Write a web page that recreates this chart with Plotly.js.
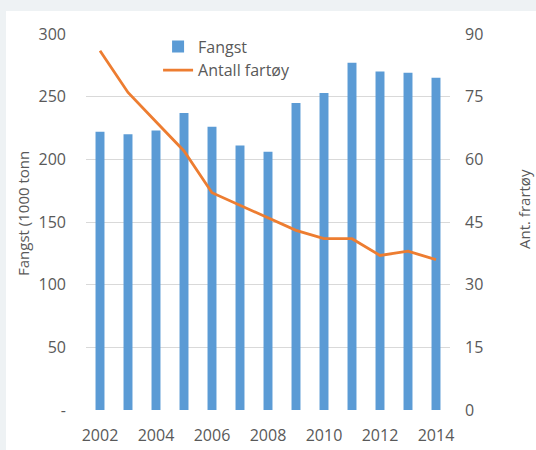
<!DOCTYPE html>
<html>
<head>
<meta charset="utf-8">
<script src="https://cdn.plot.ly/plotly-3.0.1.min.js"></script>
<style>
html,body{margin:0;padding:0;width:536px;height:450px;overflow:hidden;background:#eef2f4;}
#panel{position:absolute;left:6px;top:11px;width:530px;height:439px;background:#ffffff;}
#chart{position:absolute;left:0;top:0;width:536px;height:450px;}
</style>
</head>
<body>
<div id="panel"></div>
<div id="chart"></div>
<script>
const years = ["2002","2003","2004","2005","2006","2007","2008","2009","2010","2011","2012","2013","2014"];
const fangst = [222, 220, 223, 237, 226, 211, 206, 245, 253, 277, 270, 269, 265];
const antallFartoy = [86, 76, 69, 62, 52, 49, 46, 43, 41, 41, 37, 38, 36];
const leftTickVals = [0, 50, 100, 150, 200, 250, 300];
const leftTickText = ["-", "50", "100", "150", "200", "250", "300"];
const rightTickVals = [0, 15, 30, 45, 60, 75, 90];
const xTickVals = ["2002","2004","2006","2008","2010","2012","2014"];

const fontFam = '"Open Sans", "Noto Sans", sans-serif';
const txtColor = '#595959';

const traces = [
  {
    type: 'bar', name: 'Fangst', x: years, y: fangst,
    marker: {color: '#5b9bd5'}, yaxis: 'y'
  },
  {
    type: 'scatter', mode: 'lines', name: 'Antall fartøy', x: years, y: antallFartoy,
    line: {color: '#ed7d31', width: 2.8}, yaxis: 'y2'
  }
];

const layout = {
  width: 536, height: 450,
  margin: {l: 86, r: 86, t: 34, b: 40},
  paper_bgcolor: 'rgba(0,0,0,0)',
  plot_bgcolor: 'rgba(0,0,0,0)',
  font: {family: fontFam, size: 16, color: txtColor},
  bargap: 0.68,
  showlegend: true,
  legend: {
    x: 0.198, y: 1.012, xanchor: 'left', yanchor: 'top',
    bgcolor: 'rgba(0,0,0,0)', font: {family: fontFam, size: 16, color: txtColor},
    tracegroupgap: 0, itemwidth: 30
  },
  xaxis: {
    type: 'category', tickmode: 'array', tickvals: xTickVals, ticktext: xTickVals,
    showgrid: false, zeroline: false, showline: false, ticks: '',
    ticklabelstandoff: 14,
    tickfont: {family: fontFam, size: 16, color: txtColor}
  },
  yaxis: {
    range: [0, 300], tickmode: 'array', tickvals: leftTickVals, ticktext: leftTickText,
    showgrid: true, gridcolor: '#d9d9d9', gridwidth: 1, zeroline: false, showline: false,
    ticks: '', ticklabelstandoff: 19,
    tickfont: {family: fontFam, size: 16, color: txtColor}
  },
  yaxis2: {
    range: [0, 90], overlaying: 'y', side: 'right', tickmode: 'array', tickvals: rightTickVals,
    showgrid: false, zeroline: false, showline: false, ticks: '', ticklabelstandoff: 14,
    tickfont: {family: fontFam, size: 16, color: txtColor}
  },
  annotations: [
    {
      text: 'Fangst (1000 tonn', xref: 'paper', yref: 'paper',
      x: (23 - 86) / 364, y: (410 - 214) / 376, xanchor: 'center', yanchor: 'middle',
      textangle: -90, showarrow: false, font: {family: fontFam, size: 15, color: txtColor}
    },
    {
      text: 'Ant. frartøy', xref: 'paper', yref: 'paper',
      x: (524 - 86) / 364, y: (410 - 209) / 376, xanchor: 'center', yanchor: 'middle',
      textangle: -90, showarrow: false, font: {family: fontFam, size: 15, color: txtColor}
    }
  ]
};

Plotly.newPlot('chart', traces, layout, {displayModeBar: false, staticPlot: true});
</script>
</body>
</html>
